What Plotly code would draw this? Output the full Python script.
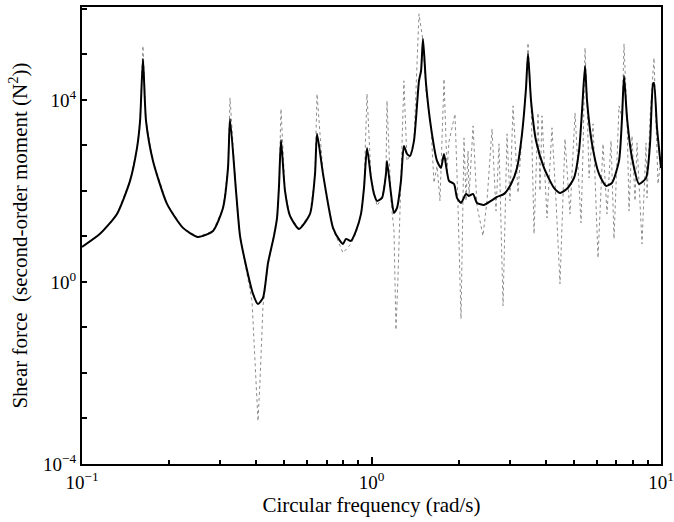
import plotly.graph_objects as go

# Solid curve (frequency rad/s, shear force N^2)
solid_freq = [0.100, 0.1154, 0.1321, 0.1465, 0.1549, 0.1587, 0.1624, 0.1664, 0.1759, 0.1966,
              0.2233, 0.2516, 0.2835, 0.3069, 0.3194, 0.3245, 0.3404, 0.3514, 0.3656, 0.3897,
              0.4055, 0.4219, 0.4391, 0.4605, 0.4717, 0.4792, 0.4869, 0.5026, 0.5230, 0.5618,
              0.6132, 0.6381, 0.6484, 0.6800, 0.7362, 0.7785, 0.7970, 0.8162, 0.8493, 0.8840,
              0.9199, 0.9421, 0.9649, 0.9961, 1.020, 1.045, 1.087, 1.122, 1.131, 1.168,
              1.196, 1.225, 1.264, 1.294, 1.326, 1.358, 1.402, 1.459, 1.483, 1.506,
              1.543, 1.606, 1.684, 1.738, 1.780, 1.852, 1.928, 1.974, 2.038, 2.121,
              2.172, 2.243, 2.314, 2.447, 2.587, 2.714, 2.870, 3.034, 3.182, 3.311,
              3.418, 3.473, 3.557, 3.701, 3.944, 4.270, 4.478, 4.735, 5.007, 5.210,
              5.336, 5.465, 5.553, 5.778, 6.107, 6.457, 6.773, 7.161, 7.334, 7.452,
              7.632, 7.941, 8.396, 8.878, 9.163, 9.385, 9.458, 9.687, 10.0]
solid_amp = [5.88, 11.4, 31.2, 166, 881, 3450, 7.96e4, 3450, 456, 51.8,
             15.4, 9.75, 13.2, 42.3, 320, 3820, 100, 10.3, 2.89, 0.545,
             0.328, 0.445, 2.62, 10.3, 25.5, 129, 1320, 100, 28.2, 14.6,
             31.2, 236, 1790, 236, 15.4, 7.96, 6.84, 8.81, 7.96, 13.2,
             31.2, 116, 881, 193, 85.9, 60.3, 70.2, 236, 456, 85.9,
             32.8, 42.3, 166, 975, 650, 588, 1260, 2.62e4, 4.34e4, 2.19e5,
             2.25e4, 2430, 456, 320, 650, 166, 142, 70.2, 54.5, 85.9,
             77.6, 85.9, 54.5, 49.2, 60.3, 73.8, 85.9, 142, 320, 1790,
             1.84e4, 1.03e5, 9510, 1260, 320, 116, 90.4, 111, 193, 757,
             5730, 5.59e4, 9510, 1080, 236, 129, 150, 456, 4020, 3.37e4,
             4020, 531, 142, 193, 1080, 2.25e4, 2.36e4, 2430, 320]

# Dotted curve
dotted_freq = [0.100, 0.1154, 0.1321, 0.1465, 0.1549, 0.1587, 0.1624, 0.1664, 0.1759, 0.1966,
               0.2233, 0.2516, 0.2835, 0.3069, 0.3194, 0.3245, 0.3404, 0.3514, 0.3656, 0.3866,
               0.3990, 0.4055, 0.4120, 0.4219, 0.4391, 0.4605, 0.4717, 0.4792, 0.4869, 0.5026,
               0.5230, 0.5618, 0.6132, 0.6381, 0.6484, 0.6800, 0.7362, 0.7970, 0.8493, 0.8840,
               0.9199, 0.9421, 0.9649, 0.9961, 1.045, 1.087, 1.122, 1.131, 1.168, 1.196,
               1.215, 1.234, 1.264, 1.294, 1.326, 1.358, 1.402, 1.459, 1.506, 1.543,
               1.606, 1.644, 1.684, 1.724, 1.780, 1.823, 1.852, 1.943, 1.990, 2.038,
               2.087, 2.121, 2.155, 2.172, 2.243, 2.314, 2.427, 2.506, 2.608, 2.692,
               2.757, 2.847, 2.938, 3.009, 3.082, 3.207, 3.311, 3.418, 3.473, 3.557,
               3.643, 3.760, 3.820, 3.881, 4.038, 4.202, 4.339, 4.478, 4.660, 4.850,
               5.047, 5.294, 5.378, 5.465, 5.553, 5.642, 5.824, 6.059, 6.305, 6.509,
               6.720, 6.882, 7.161, 7.334, 7.452, 7.632, 7.755, 7.941, 8.133, 8.264,
               8.600, 8.878, 8.949, 9.163, 9.458, 9.763, 10.0]
dotted_amp = [5.88, 11.4, 31.2, 166, 881, 3450, 1.54e5, 3450, 456, 51.8,
              15.4, 9.75, 13.2, 42.3, 320, 1.11e4, 100, 10.3, 2.62, 0.382,
              6.67e-3, 8.81e-4, 6.67e-3, 0.297, 2.36, 10.3, 25.5, 129, 6340, 100,
              28.2, 14.6, 31.2, 236, 1.35e4, 236, 14.6, 4.34, 6.84, 11.9,
              31.2, 116, 1.35e4, 193, 46.8, 70.2, 236, 9510, 60.3, 13.2,
              0.0881, 1.16, 166, 2.62e4, 456, 588, 1260, 7.76e5, 1.98e5, 1.58e4,
              2430, 150, 354, 60.3, 2.89e4, 275, 1200, 4920, 46.8, 0.154,
              1460, 60.3, 757, 77.6, 2680, 46.8, 10.3, 60.3, 2310, 36.3,
              1080, 0.297, 1790, 60.3, 7380, 90.4, 1790, 1.84e4, 1.79e5, 9510,
              11.4, 5180, 100, 4450, 25.5, 2430, 60.3, 0.904, 1390, 31.2,
              5180, 19.8, 757, 1.39e5, 9510, 193, 2970, 3.37, 1080, 31.2,
              1260, 8.81, 7380, 4020, 1.70e5, 4020, 36.3, 1620, 60.3, 1130,
              6.84, 1130, 70.2, 4020, 8.38e4, 142, 531]

x_tick_vals = [0.1, 1, 10]
x_tick_text = ["10<sup>−1</sup>", "10<sup>0</sup>", "10<sup>1</sup>"]
x_minor_vals = [0.2, 0.3, 0.4, 0.5, 0.6, 0.7, 0.8, 0.9, 2, 3, 4, 5, 6, 7, 8, 9]
y_tick_vals = [1e-4, 1e0, 1e4]
y_tick_text = ["10<sup>−4</sup>", "10<sup>0</sup>", "10<sup>4</sup>"]
y_minor_vals = [1e-3, 1e-2, 1e-1, 1e1, 1e2, 1e3, 1e5, 1e6]

FONT = "Liberation Serif, Times New Roman, serif"

fig = go.Figure()
fig.add_trace(go.Scatter(x=dotted_freq, y=dotted_amp, mode="lines",
                         line=dict(color="#8c8c8c", width=1, dash="dot"),
                         showlegend=False, hoverinfo="skip"))
fig.add_trace(go.Scatter(x=solid_freq, y=solid_amp, mode="lines",
                         line=dict(color="black", width=2, shape="spline", smoothing=0.6),
                         showlegend=False))

fig.update_layout(
    template="none",
    width=674, height=522,
    margin=dict(l=82, r=13, t=7, b=58),
    paper_bgcolor="white", plot_bgcolor="white",
    font=dict(family=FONT, size=20, color="black"),
    xaxis=dict(
        type="log", range=[-1, 1], automargin=False,
        tickmode="array", tickvals=x_tick_vals, ticktext=x_tick_text,
        ticks="inside", ticklen=7, tickwidth=1.5, tickcolor="black",
        minor=dict(tickmode="array", tickvals=x_minor_vals, ticks="inside",
                   ticklen=4, tickwidth=1.5, tickcolor="black", showgrid=False),
        showline=True, linecolor="black", linewidth=2, mirror=True,
        showgrid=False, zeroline=False,
        tickfont=dict(family=FONT, size=19),
        title=dict(text="Circular frequency (rad/s)", font=dict(family=FONT, size=21), standoff=6),
    ),
    yaxis=dict(
        type="log", range=[-4, 6.04], automargin=False,
        tickmode="array", tickvals=y_tick_vals, ticktext=y_tick_text,
        ticks="inside", ticklen=5, tickwidth=1.5, tickcolor="black",
        minor=dict(tickmode="array", tickvals=y_minor_vals, ticks="inside",
                   ticklen=5, tickwidth=1.5, tickcolor="black", showgrid=False),
        showline=True, linecolor="black", linewidth=2, mirror=True,
        showgrid=False, zeroline=False,
        tickfont=dict(family=FONT, size=19),
        title=dict(text="Shear force  (second-order moment (N<sup>2</sup>))",
                   font=dict(family=FONT, size=21), standoff=10),
    ),
)

fig.write_html("out.html", config={"displayModeBar": False},
               post_script="document.body.style.margin='0px';")
